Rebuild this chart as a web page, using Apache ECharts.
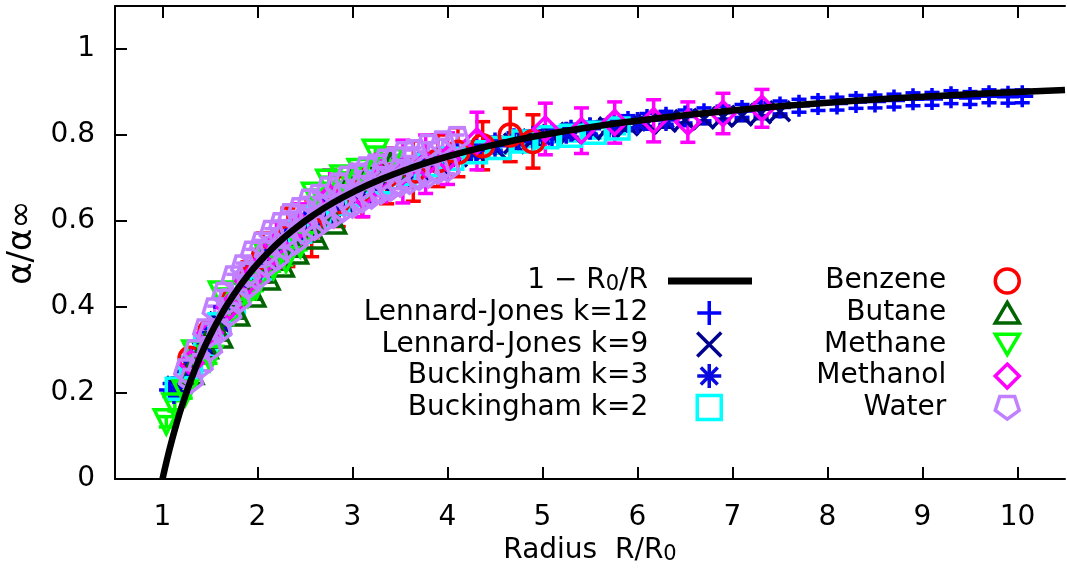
<!DOCTYPE html>
<html><head><meta charset="utf-8">
<script src="https://cdn.jsdelivr.net/npm/echarts@6/dist/echarts.min.js"></script>
<style>html,body{margin:0;padding:0;background:#fff}#c{width:1067px;height:569px}</style>
</head><body><div id="c"></div>
<script>
// ---- tick labels ----
const xTicks = [1, 2, 3, 4, 5, 6, 7, 8, 9, 10];
const yTicks = [0, 0.2, 0.4, 0.6, 0.8, 1];

// ---- model curve 1 - R0/R (sampled) ----
const curveX = [1.0,1.05,1.1,1.15,1.2,1.3,1.4,1.5,1.6,1.7,1.8,1.9,2.0,2.2,2.4,2.6,2.8,3.0,3.3,3.6,4.0,4.5,5.0,5.5,6.0,6.5,7.0,7.5,8.0,8.5,9.0,9.5,10.0,10.5];
const curveY = [0,0.0476,0.0909,0.1304,0.1667,0.2308,0.2857,0.3333,0.375,0.4118,0.4444,0.4737,0.5,0.5455,0.5833,0.6154,0.6429,0.6667,0.6970,0.7222,0.75,0.7778,0.8,0.8182,0.8333,0.8462,0.8571,0.8667,0.875,0.8824,0.8889,0.8947,0.9,0.9048];

// ---- Lennard-Jones k=12 ----
const lj12X = [1.08,1.2,1.35,1.5,1.65,1.8,1.95,2.1,2.3,2.5,2.7,2.9,3.1,3.3,3.5,3.7,3.9,4.1,4.3,4.5,4.7,4.9,5.1,5.3,5.5,5.7,5.9,6.1,6.3,6.5,6.7,6.9,7.1,7.3,7.5,7.7,7.9,8.1,8.3,8.5,8.7,8.9,9.1,9.3,9.5,9.7,9.9,10.05];
const lj12Y = [0.207,0.235,0.29,0.34,0.40,0.44,0.48,0.53,0.57,0.60,0.63,0.66,0.68,0.70,0.72,0.735,0.745,0.755,0.765,0.78,0.79,0.795,0.80,0.81,0.815,0.82,0.83,0.835,0.84,0.843,0.848,0.852,0.856,0.86,0.864,0.868,0.872,0.873,0.877,0.878,0.88,0.883,0.884,0.888,0.886,0.89,0.889,0.89];
const lj12Err = 0.015;

// ---- Lennard-Jones k=9 ----
const lj9X = [1.15,1.3,1.45,1.6,1.75,1.9,2.1,2.3,2.5,2.7,2.9,3.1,3.3,3.5,3.7,3.9,4.1,4.3,4.5,4.7,4.9,5.1,5.3,5.5,5.7,5.9,6.1,6.3,6.5,6.7,6.9,7.1,7.3,7.5];
const lj9Y = [0.215,0.26,0.31,0.365,0.41,0.455,0.51,0.55,0.585,0.615,0.645,0.665,0.69,0.705,0.72,0.735,0.75,0.76,0.77,0.78,0.79,0.80,0.805,0.812,0.818,0.822,0.826,0.83,0.835,0.838,0.842,0.845,0.85,0.855];
const lj9Err = 0.012;

// ---- Buckingham k=3 ----
const b3X = [1.12,1.25,1.4,1.55,1.7,1.85,2.0,2.2,2.4,2.6,2.8,3.0,3.2,3.4,3.6,3.8,4.0,4.25,4.5,4.75,5.0,5.25,5.5,5.75,6.0,6.3];
const b3Y = [0.2,0.25,0.3,0.35,0.4,0.44,0.49,0.535,0.575,0.605,0.635,0.66,0.685,0.70,0.715,0.73,0.745,0.76,0.775,0.785,0.795,0.805,0.815,0.82,0.828,0.835];
const b3Err = 0.012;

// ---- Buckingham k=2 ----
const b2X = [1.15,1.3,1.45,1.6,1.75,1.9,2.05,2.25,2.45,2.65,2.85,3.05,3.3,3.55,3.8,4.05,4.3,4.55,4.8,5.05,5.3,5.55,5.8];
const b2Y = [0.21,0.26,0.31,0.36,0.405,0.45,0.49,0.54,0.575,0.61,0.64,0.66,0.69,0.71,0.73,0.745,0.76,0.77,0.785,0.795,0.798,0.805,0.815];
const b2Err = 0.012;

// ---- Benzene ----
const benX = [1.29,1.5,1.72,1.9,2.06,2.32,2.57,2.85,3.1,3.36,3.64,3.9,4.11,4.37,4.66,4.9];
const benY = [0.281,0.345,0.41,0.465,0.515,0.562,0.583,0.645,0.67,0.705,0.716,0.74,0.76,0.775,0.80,0.785];
const benErr = [0.015,0.02,0.03,0.04,0.057,0.068,0.066,0.058,0.06,0.065,0.07,0.06,0.057,0.056,0.062,0.062];

// ---- Butane ----
const butX = [1.3,1.45,1.6,1.78,1.95,2.1,2.25,2.4,2.6,2.8,3.0,3.2,3.4];
const butY = [0.25,0.31,0.335,0.386,0.43,0.47,0.50,0.53,0.565,0.6,0.70,0.72,0.73];
const butErr = 0.012;

// ---- Methane ----
const metX = [1.04,1.13,1.24,1.34,1.5,1.62,1.75,1.9,1.99,2.1,2.17,2.3,2.45,2.6,2.75,2.9,3.08,3.24,3.4];
const metY = [0.133,0.17,0.2,0.293,0.281,0.43,0.39,0.43,0.45,0.52,0.495,0.51,0.545,0.66,0.69,0.70,0.715,0.76,0.74];
const metErr = 0.012;

// ---- Methanol ----
const mohX = [1.3,1.5,1.7,1.9,2.05,2.2,2.45,2.76,3.11,3.3,3.53,3.77,4.0,4.31,5.03,5.41,5.76,6.17,6.53,6.9,7.31];
const mohY = [0.27,0.34,0.40,0.46,0.50,0.545,0.59,0.655,0.66,0.70,0.715,0.732,0.745,0.786,0.814,0.81,0.829,0.833,0.83,0.85,0.862];
const mohErr = [0.015,0.02,0.025,0.03,0.04,0.053,0.05,0.064,0.05,0.055,0.073,0.068,0.06,0.067,0.06,0.053,0.048,0.049,0.047,0.047,0.044];

// ---- Water ----
const watX = [1.25,1.35,1.45,1.55,1.65,1.75,1.85,1.95,2.05,2.15,2.25,2.35,2.45,2.55,2.65,2.75,2.85,2.95,3.05,3.15,3.25,3.35,3.45,3.55,3.65,3.8,3.95,4.1,
              1.3,1.4,1.5,1.6,1.7,1.8,1.9,2.0,2.1,2.2,2.3,2.4,2.5,2.6,2.7,2.8,2.9,3.0,3.1,3.2,3.3,3.4,3.5,3.6,3.7,3.8,3.9,4.0,
              1.5,1.7,1.9,2.1,2.3,2.5,2.7,2.9,3.1,3.3,3.5];
const watY = [0.25,0.295,0.343,0.392,0.428,0.466,0.492,0.524,0.545,0.572,0.59,0.611,0.625,0.645,0.656,0.673,0.682,0.698,0.705,0.72,0.726,0.738,0.743,0.755,0.76,0.772,0.78,0.79,
              0.228,0.262,0.302,0.343,0.382,0.413,0.447,0.468,0.497,0.513,0.537,0.551,0.572,0.584,0.601,0.612,0.626,0.636,0.648,0.657,0.668,0.675,0.685,0.691,0.7,0.706,0.715,0.72,
              0.335,0.413,0.475,0.525,0.565,0.6,0.63,0.655,0.677,0.697,0.714];
const watErr = 0.01;

const FONT = 'DejaVu Sans';
const FS = 28;
const CURVE = '1 − R0/R';
const PLUS = 'path://M0,10L20,10M10,0L10,20';
const CROSS = 'path://M0,0L20,20M20,0L0,20';
const STAR = 'path://M0,10L20,10M10,0L10,20M3,3L17,17M17,3L3,17';
const TRI_UP = 'path://M10,0L20,17L0,17Z';
const TRI_DN = 'path://M0,0L20,0L10,17Z';
const PENT = 'path://M4.1,0L15.9,0L19.5,11.1L10,18L0.5,11.1Z';

function pts(xs, ys) { return xs.map((x, i) => [x, ys[i]]); }
function errVal(err, i) { return Array.isArray(err) ? err[i] : err; }

function errSeries(name, xs, ys, err, color) {
  return {
    type: 'custom', name: name + ' (err)', clip: true,
    data: xs.map((x, i) => [x, ys[i] - errVal(err, i), ys[i] + errVal(err, i)]),
    encode: { x: 0, y: [1, 2] },
    renderItem: function (params, api) {
      const x = api.value(0);
      const lo = api.coord([x, api.value(1)]);
      const hi = api.coord([x, api.value(2)]);
      const w = 7.5;
      const st = { stroke: color, lineWidth: 3.5 };
      return { type: 'group', children: [
        { type: 'line', shape: { x1: lo[0], y1: lo[1], x2: hi[0], y2: hi[1] }, style: st },
        { type: 'line', shape: { x1: lo[0] - w, y1: lo[1], x2: lo[0] + w, y2: lo[1] }, style: st },
        { type: 'line', shape: { x1: hi[0] - w, y1: hi[1], x2: hi[0] + w, y2: hi[1] }, style: st }
      ]};
    }
  };
}

function scat(name, xs, ys, symbol, color, size) {
  return {
    type: 'scatter', name: name, data: pts(xs, ys), symbol: symbol, symbolSize: size || 22,
    itemStyle: { color: 'transparent', borderColor: color, borderWidth: 3.5, opacity: 1 },
    emphasis: { disabled: true }
  };
}

const defs = [
  ['Lennard-Jones k=12', lj12X, lj12Y, lj12Err, PLUS, '#0000ff', 22],
  ['Lennard-Jones k=9', lj9X, lj9Y, lj9Err, CROSS, '#000090', 20],
  ['Buckingham k=3', b3X, b3Y, b3Err, STAR, '#0a0ae0', 22],
  ['Buckingham k=2', b2X, b2Y, b2Err, 'rect', '#00ffff', 21],
  ['Benzene', benX, benY, benErr, 'circle', '#ff0000', 22],
  ['Butane', butX, butY, butErr, TRI_UP, '#006400', 24],
  ['Methane', metX, metY, metErr, TRI_DN, '#00ff00', 24],
  ['Methanol', mohX, mohY, mohErr, 'diamond', '#ff00ff', 24],
  ['Water', watX, watY, watErr, PENT, '#c080ff', 23]
];

const series = [];
defs.forEach(d => {
  series.push(errSeries(d[0], d[1], d[2], d[3], d[5]));
  series.push(scat(d[0], d[1], d[2], d[4], d[5], d[6]));
});
series.push({
  type: 'line', name: CURVE, data: pts(curveX, curveY), smooth: true, showSymbol: false,
  symbol: 'none', lineStyle: { color: '#000', width: 6.5 }, itemStyle: { color: '#000' }, z: 5,
  emphasis: { disabled: true }
});

const rich = {
  a: { fontFamily: FONT, fontSize: FS, color: '#000', lineHeight: 28 },
  s: { fontFamily: FONT, fontSize: 21, color: '#000', lineHeight: 10, verticalAlign: 'bottom' }
};
const plainText = { fontFamily: FONT, fontSize: FS, color: '#000', lineHeight: 24, padding: [0, 44, 0, 0] };
const legendCommon = { orient: 'vertical', align: 'right', padding: 0, selectedMode: false };

const option = {
  animation: false,
  backgroundColor: '#fff',
  grid: { left: 115, right: 2, top: 6, bottom: 90, containLabel: false, outerBoundsMode: 'none' },
  xAxis: [{
    type: 'value', min: 0.5, max: 10.5, position: 'bottom',
    name: '{a|Radius  R/R}{s|0}', nameLocation: 'middle', nameGap: 54,
    nameTextStyle: { rich: rich },
    axisLine: { show: true, lineStyle: { color: '#000', width: 2 } },
    axisTick: { show: true, inside: true, length: 12, lineStyle: { width: 2 }, customValues: xTicks },
    axisLabel: { fontFamily: FONT, fontSize: FS, color: '#000', margin: 25, customValues: xTicks },
    splitLine: { show: false }
  }, {
    type: 'value', min: 0.5, max: 10.5, position: 'top',
    axisLine: { show: true, lineStyle: { color: '#000', width: 2 } },
    axisTick: { show: true, inside: true, length: 12, lineStyle: { width: 2 }, customValues: xTicks },
    axisLabel: { show: false },
    splitLine: { show: false }
  }],
  yAxis: [{
    type: 'value', min: 0, max: 1.1, interval: 0.2,
    name: 'α/α∞', nameLocation: 'middle', nameGap: 71, nameRotate: 90,
    nameTextStyle: { fontFamily: FONT, fontSize: 34, color: '#000' },
    axisLine: { show: true, lineStyle: { color: '#000', width: 2 } },
    axisTick: { show: true, inside: true, length: 12, lineStyle: { width: 2 }, customValues: yTicks },
    axisLabel: { fontFamily: FONT, fontSize: FS, color: '#000', margin: 20, customValues: yTicks },
    splitLine: { show: false }
  }],
  legend: [
    Object.assign({}, legendCommon, {
      data: [{ name: CURVE, icon: 'rect' }], right: 315, top: 267, itemWidth: 84, itemHeight: 7,
      itemStyle: { color: '#000', borderWidth: 0 },
      formatter: function () { return '{a|1 − R}{s|0}{a|/R}'; },
      textStyle: { fontFamily: FONT, fontSize: FS, color: '#000', rich: rich, padding: [0, 15, 0, 0] }
    }),
    Object.assign({}, legendCommon, {
      data: ['Lennard-Jones k=12', 'Lennard-Jones k=9', 'Buckingham k=3', 'Buckingham k=2'],
      right: 344, top: 299, itemWidth: 24, itemHeight: 24, itemGap: 3.5,
      itemStyle: { borderWidth: 3.5 },
      textStyle: plainText
    }),
    Object.assign({}, legendCommon, {
      data: ['Benzene', 'Butane', 'Methane', 'Methanol', 'Water'],
      right: 46, top: 267, itemWidth: 24, itemHeight: 24, itemGap: 3.7,
      itemStyle: { borderWidth: 3.5 },
      textStyle: plainText
    })
  ],
  series: series
};

const chart = echarts.init(document.getElementById('c'), null, { renderer: 'canvas' });
chart.setOption(option);
</script></body></html>
